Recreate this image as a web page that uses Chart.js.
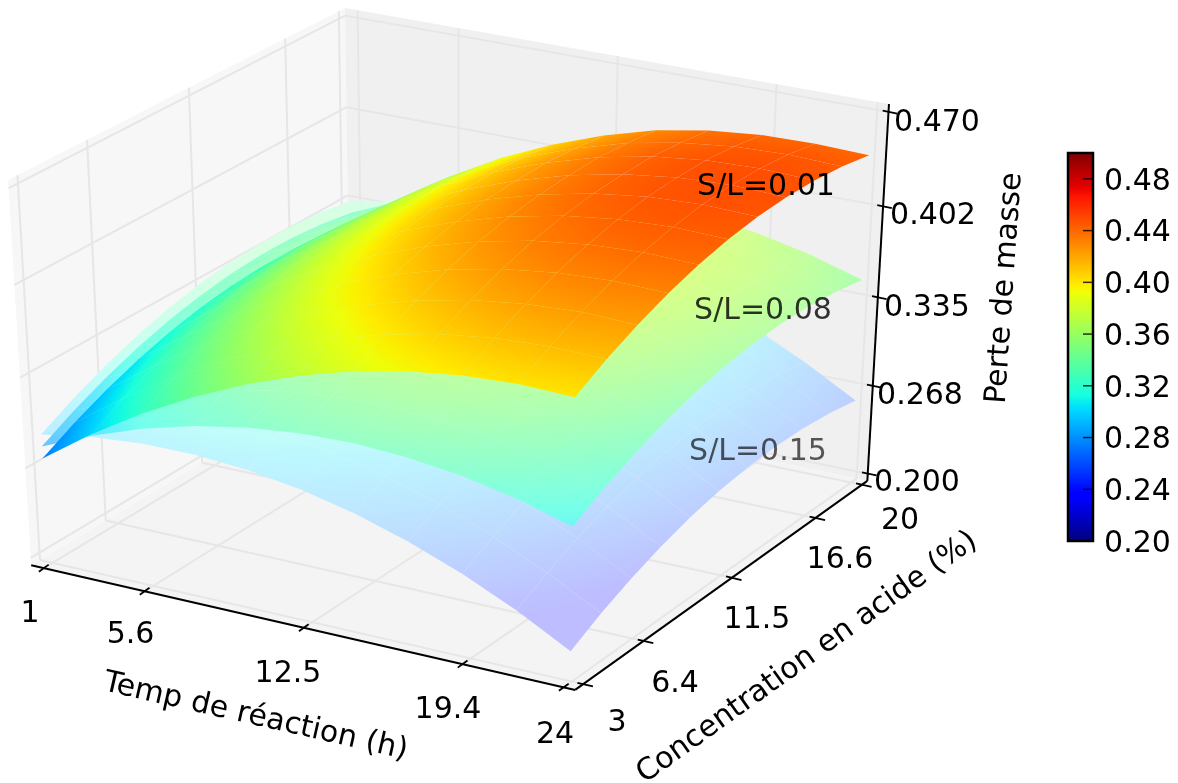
<!DOCTYPE html>
<html><head><meta charset="utf-8">
<script src="https://cdn.jsdelivr.net/npm/chart.js@4"></script>
<style>html,body{margin:0;padding:0;background:#fff;width:1178px;height:783px;overflow:hidden}
canvas{position:absolute;display:block}</style></head>
<body>
<canvas id="main" width="1178" height="783" style="left:0;top:0;width:1178px;height:783px"></canvas>
<canvas id="bar" width="118" height="460" style="left:1060px;top:120px;width:118px;height:460px"></canvas>
<script>
// ---- data ----
const times = [1,3.3,5.6,7.9,10.2,12.5,14.8,17.1,19.4,21.7,24];
const concs = [3,4.7,6.4,8.1,9.8,11.5,13.2,14.9,16.6,18.3,20];
const timeTickLabels = ['1','5.6','12.5','19.4','24'];
const concTickLabels = ['3','6.4','11.5','16.6','20'];
const massTickLabels = ['0.200','0.268','0.335','0.402','0.470'];
const timeTicks = [1.1,5.7,12.8,19.7,24];
const concTicks = [3.1,6.55,11.8,17,20];
const massTicks = [0.200,0.268,0.335,0.402,0.470];
const barTicks = [0.20,0.24,0.28,0.32,0.36,0.40,0.44,0.48];
// rows: time, columns: concentration
const massSL001 = [
[.2740,.2866,.2973,.3062,.3133,.3185,.3219,.3234,.3231,.3210,.3170],
[.3003,.3129,.3235,.3324,.3395,.3447,.3480,.3495,.3492,.3470,.3430],
[.3235,.3360,.3467,.3555,.3626,.3677,.3710,.3725,.3726,.3710,.3679],
[.3437,.3562,.3668,.3756,.3826,.3877,.3911,.3925,.3931,.3914,.3888],
[.3609,.3734,.3840,.3927,.3997,.4048,.4081,.4095,.4100,.4083,.4057],
[.3750,.3875,.3980,.4067,.4137,.4187,.4220,.4233,.4239,.4221,.4195],
[.3861,.3985,.4090,.4178,.4247,.4297,.4329,.4342,.4348,.4330,.4303],
[.3941,.4065,.4170,.4257,.4326,.4375,.4407,.4420,.4425,.4402,.4370],
[.3991,.4115,.4219,.4306,.4374,.4424,.4456,.4468,.4468,.4444,.4407],
[.4011,.4134,.4239,.4325,.4393,.4442,.4474,.4486,.4480,.4457,.4414],
[.4000,.4123,.4227,.4313,.4381,.4430,.4461,.4473,.4467,.4443,.4400]];
const massSL008 = [
[.2830,.2956,.3063,.3152,.3223,.3275,.3309,.3324,.3321,.3300,.3260],
[.2993,.3119,.3225,.3314,.3385,.3437,.3470,.3485,.3482,.3460,.3420],
[.3125,.3250,.3357,.3445,.3516,.3567,.3600,.3615,.3611,.3590,.3549],
[.3227,.3352,.3458,.3546,.3616,.3667,.3701,.3715,.3711,.3689,.3648],
[.3299,.3424,.3530,.3617,.3687,.3738,.3771,.3785,.3780,.3758,.3717],
[.3340,.3465,.3570,.3657,.3727,.3777,.3810,.3823,.3819,.3796,.3755],
[.3351,.3475,.3580,.3668,.3737,.3787,.3819,.3832,.3828,.3805,.3763],
[.3331,.3455,.3560,.3647,.3716,.3765,.3797,.3810,.3805,.3782,.3740],
[.3281,.3405,.3509,.3596,.3664,.3714,.3746,.3758,.3753,.3729,.3687],
[.3201,.3324,.3429,.3515,.3583,.3632,.3664,.3676,.3670,.3647,.3604],
[.3090,.3213,.3317,.3403,.3471,.3520,.3551,.3563,.3557,.3533,.3490]];
const massSL015 = [
[.2920,.3046,.3153,.3242,.3313,.3365,.3399,.3414,.3411,.3390,.3350],
[.2983,.3109,.3215,.3304,.3375,.3427,.3460,.3475,.3472,.3450,.3410],
[.3015,.3140,.3247,.3335,.3406,.3457,.3490,.3505,.3501,.3480,.3439],
[.3017,.3142,.3248,.3336,.3406,.3457,.3491,.3505,.3501,.3479,.3438],
[.2989,.3114,.3220,.3307,.3377,.3428,.3461,.3475,.3470,.3448,.3407],
[.2930,.3055,.3160,.3247,.3317,.3367,.3400,.3413,.3409,.3386,.3345],
[.2841,.2965,.3070,.3158,.3227,.3277,.3309,.3322,.3318,.3295,.3253],
[.2721,.2845,.2950,.3037,.3106,.3155,.3187,.3200,.3195,.3172,.3130],
[.2571,.2695,.2799,.2886,.2954,.3004,.3036,.3048,.3043,.3019,.2977],
[.2391,.2514,.2619,.2705,.2773,.2822,.2854,.2866,.2860,.2837,.2794],
[.2180,.2303,.2407,.2493,.2561,.2610,.2641,.2653,.2647,.2623,.2580]];

// ---- layout and style ----
const FONT = '30px "DejaVu Sans"';
const surfaces = [
  {grid: massSL015, tint: 0.26, fmin: 0.11},
  {grid: massSL008, tint: 0.6, fmin: 0},
  {grid: massSL001, tint: 1, fmin: 0}
];
const labelXY = {
  time: [[30,612],[130.5,633],[288,672],[448,708],[555,733]],
  conc: [[617,721],[675,682],[757,618],[840,558],[900,519]],
  mass: [[917,481],[920,394],[927,306],[933,214],[937,121]]
};
const texts = [
  ['Temp de réaction (h)',256,715,12.8],
  ['Concentration en acide (%)',806,656,-35.6],
  ['Perte de masse',1003,288,-86],
  ['S/L=0.01',766,185,0,'#000'],
  ['S/L=0.08',763,309,0,'rgba(0,0,0,0.8)'],
  ['S/L=0.15',758,450,0,'rgba(0,0,0,0.65)']
];
timeTickLabels.forEach((s,i)=>texts.push([s,labelXY.time[i][0],labelXY.time[i][1],0]));
concTickLabels.forEach((s,i)=>texts.push([s,labelXY.conc[i][0],labelXY.conc[i][1],0]));
massTickLabels.forEach((s,i)=>texts.push([s,labelXY.mass[i][0],labelXY.mass[i][1],0]));

// ---- mplot3d style camera: elevation 30, azimuth -60, distance 10 ----
const M = 1/48;
const X0=times[0], X1=times[times.length-1], Y0=concs[0], Y1=concs[concs.length-1], Z0=massTicks[0], Z1=massTicks[4];
function nx(t){return (t-X0)/(X1-X0)} function ny(c){return (c-Y0)/(Y1-Y0)} function nz(m){return (m-Z0)/(Z1-Z0)}
function depth(u,v,w){return .433*(u-.5)-.75*(v-.5)+.5*(w-.5)}
function proj(u,v,w){
  const dx=u-.5,dy=v-.5,dz=w-.5;
  const X=.75*dx+.433*dy, Y=-.2165*dx+.375*dy+.75*dz, W=10-depth(u,v,w);
  return {x:456+6960*X/W, y:336.8-4874*Y/W};
}
// jet colour map
const seg = {
  r:[[0,0],[.35,0],[.66,1],[.89,1],[1,.5]],
  g:[[0,0],[.125,0],[.375,1],[.64,1],[.91,0],[1,0]],
  b:[[0,.5],[.11,1],[.34,1],[.65,0],[1,0]]
};
function ch(s,f){for(let i=1;i<s.length;i++){if(f<=s[i][0]){const a=s[i-1],b=s[i];return a[1]+(b[1]-a[1])*(f-a[0])/(b[0]-a[0]);}}return s[s.length-1][1];}
function jet(f,tint){
  f=Math.max(0,Math.min(1,f));
  const m=c=>Math.round(255*(1-tint)+255*tint*c);
  return `rgb(${m(ch(seg.r,f))},${m(ch(seg.g,f))},${m(ch(seg.b,f))})`;
}
function massColor(m,s){return jet(Math.max(s.fmin,(m-0.2)/0.3),s.tint);}

const tmp = document.createElement('canvas').getContext('2d');
function cellFill(p,val,s){
  const vc=(val[0]+val[1]+val[2]+val[3])/4;
  const cx=(p[0].x+p[1].x+p[2].x+p[3].x)/4, cy=(p[0].y+p[1].y+p[2].y+p[3].y)/4;
  const e1={x:(p[1].x-p[0].x+p[2].x-p[3].x)/2,y:(p[1].y-p[0].y+p[2].y-p[3].y)/2};
  const e2={x:(p[3].x-p[0].x+p[2].x-p[1].x)/2,y:(p[3].y-p[0].y+p[2].y-p[1].y)/2};
  const d1=(val[1]-val[0]+val[2]-val[3])/2, d2=(val[3]-val[0]+val[2]-val[1])/2;
  const det=e1.x*e2.y-e1.y*e2.x;
  if(Math.abs(det)<1e-6) return massColor(vc,s);
  const gx=(d1*e2.y-d2*e1.y)/det, gy=(e1.x*d2-e2.x*d1)/det;
  const n2=gx*gx+gy*gy;
  if(n2<1e-14) return massColor(vc,s);
  const lo=Math.min(...val), hi=Math.max(...val);
  const g=tmp.createLinearGradient(cx+(lo-vc)*gx/n2,cy+(lo-vc)*gy/n2,cx+(hi-vc)*gx/n2,cy+(hi-vc)*gy/n2);
  for(let k=0;k<=4;k++) g.addColorStop(k/4,massColor(lo+(hi-lo)*k/4,s));
  return g;
}

const drawn = [];
function poly(pts,fill){drawn.push({data:pts,showLine:true,fill:'shape',backgroundColor:fill,borderWidth:0,pointRadius:0,tension:0});}
function line(a,b,color,w){drawn.push({data:[a,b],showLine:true,fill:false,borderColor:color,borderWidth:w,pointRadius:0,tension:0,borderCapStyle:'butt'});}

// panes
const lo=-M, hi=1+M;
poly([proj(lo,lo,lo),proj(lo,lo,hi),proj(lo,hi,hi),proj(lo,hi,lo)],'#f7f7f7');
poly([proj(lo,hi,lo),proj(lo,hi,hi),proj(hi,hi,hi),proj(hi,hi,lo)],'#f0f0f0');
poly([proj(lo,lo,lo),proj(hi,lo,lo),proj(hi,hi,lo),proj(lo,hi,lo)],'#f4f4f4');
// grid lines
const GRID='#e6e6e6', GW=2;
timeTicks.forEach(t=>{const u=nx(t);line(proj(u,lo,lo),proj(u,hi,lo),GRID,GW);line(proj(u,hi,lo),proj(u,hi,hi),GRID,GW);});
concTicks.forEach(c=>{const v=ny(c);line(proj(hi,v,lo),proj(lo,v,lo),GRID,GW);line(proj(lo,v,lo),proj(lo,v,hi),GRID,GW);});
massTicks.forEach(m=>{const w=nz(m);line(proj(lo,lo,w),proj(lo,hi,w),GRID,GW);line(proj(lo,hi,w),proj(hi,hi,w),GRID,GW);});
// surfaces, far cells first
surfaces.forEach(s=>{
  const cells=[];
  for(let i=0;i<times.length-1;i++)for(let j=0;j<concs.length-1;j++){
    const idx=[[i,j],[i+1,j],[i+1,j+1],[i,j+1]];
    const val=idx.map(q=>s.grid[q[0]][q[1]]);
    const pts=idx.map((q,k)=>proj(nx(times[q[0]]),ny(concs[q[1]]),nz(val[k])));
    const d=idx.reduce((a,q,k)=>a+depth(nx(times[q[0]]),ny(concs[q[1]]),nz(val[k])),0);
    cells.push({pts,val,d});
  }
  cells.sort((a,b)=>a.d-b.d).forEach(c=>poly(c.pts,cellFill(c.pts,c.val,s)));
});
// axes and ticks
const INK='#000';
line(proj(lo,lo,lo),proj(hi,lo,lo),INK,2);
line(proj(hi,lo,lo),proj(hi,hi,lo),INK,2);
line(proj(hi,hi,lo),proj(hi,hi,hi),INK,2);
function tick(p,dx,dy,a,b){line({x:p.x+dx*a,y:p.y+dy*a},{x:p.x+dx*b,y:p.y+dy*b},INK,1.8);}
timeTicks.forEach(t=>tick(proj(nx(t),lo,lo),.81,-.587,-6,6));
concTicks.forEach(c=>tick(proj(hi,ny(c),lo),.97,.226,-6,10));
massTicks.forEach(m=>tick(proj(hi,hi,nz(m)),.97,.2,-6,9));

const textPlugin={id:'texts',afterDraw(chart){
  const c=chart.ctx;c.save();c.font=FONT;c.textAlign='center';c.textBaseline='middle';
  texts.forEach(t=>{c.save();c.translate(t[1],t[2]);c.rotate(t[3]*Math.PI/180);c.fillStyle=t[4]||'#000';c.fillText(t[0],0,2);c.restore();});
  c.restore();
}};

new Chart(document.getElementById('main'),{
  type:'scatter',
  data:{datasets:drawn.slice().reverse()},
  options:{responsive:false,animation:false,devicePixelRatio:1,
    layout:{padding:0},
    plugins:{legend:{display:false},tooltip:{enabled:false},title:{display:false}},
    events:[],
    scales:{
      x:{type:'linear',display:false,min:0,max:1178},
      y:{type:'linear',display:false,min:0,max:783,reverse:true}
    }},
  plugins:[textPlugin]
});

// colour bar
const barPlugin={id:'barFrame',afterDraw(chart){
  const a=chart.chartArea,c=chart.ctx,s=chart.scales.y;
  c.save();c.strokeStyle='rgba(0,0,0,0.8)';c.lineWidth=1.5;
  barTicks.forEach(t=>{const y=s.getPixelForValue(t);c.beginPath();c.moveTo(a.right-10,y);c.lineTo(a.right,y);c.stroke();});
  c.strokeStyle='#000';c.lineWidth=2.5;c.strokeRect(a.left,a.top,a.right-a.left,a.bottom-a.top);
  c.font=FONT;c.fillStyle='#000';c.textAlign='center';c.textBaseline='middle';
  barTicks.forEach(t=>c.fillText(t.toFixed(2),a.right+44.5,s.getPixelForValue(t)+3));
  c.restore();
}};
new Chart(document.getElementById('bar'),{
  type:'bar',
  data:{labels:[''],datasets:[{data:[[0.2,0.5]],borderWidth:0,barPercentage:1,categoryPercentage:1,
    backgroundColor(ctx){
      const a=ctx.chart.chartArea;if(!a)return '#888';
      const g=ctx.chart.ctx.createLinearGradient(0,a.bottom,0,a.top);
      [0,.11,.125,.34,.35,.375,.64,.65,.66,.89,.91,1].forEach(f=>g.addColorStop(f,jet(f,1)));
      return g;
    }}]},
  options:{responsive:false,animation:false,devicePixelRatio:1,events:[],
    layout:{padding:{left:8,top:33,bottom:39,right:0}},
    plugins:{legend:{display:false},tooltip:{enabled:false}},
    scales:{
      x:{display:false},
      y:{min:0.2,max:0.5,position:'right',
        afterFit(s){s.width=85;},
        afterBuildTicks(s){s.ticks=barTicks.map(v=>({value:v}));},
        grid:{display:false},border:{display:false},
        ticks:{display:false}
      }
    }}
  ,plugins:[barPlugin]
});
</script>
</body></html>
